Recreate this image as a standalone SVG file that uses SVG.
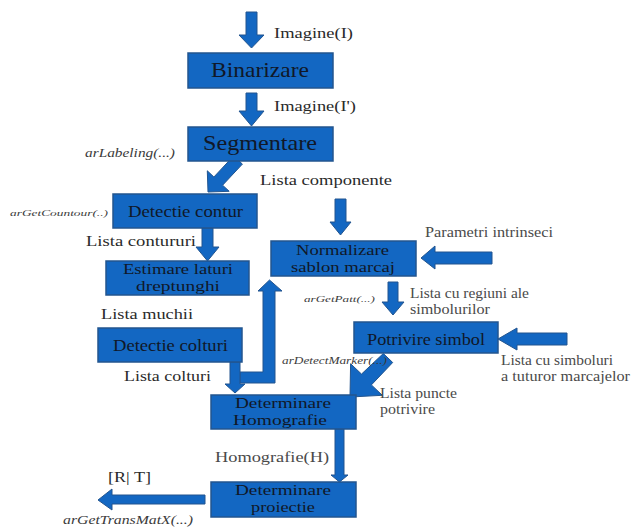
<svg xmlns="http://www.w3.org/2000/svg" width="632" height="527" viewBox="0 0 632 527" font-family="'Liberation Serif','DejaVu Serif',serif">
<style>
.box{fill:#1367c2;stroke:#23558f;stroke-width:1.5}
.arr{fill:#1367c2;stroke:#23558f;stroke-width:1}
text{font-family:'Liberation Serif','DejaVu Serif',serif}
.bt{font-size:17px;fill:#101828}
.b2{font-size:14px;fill:#101828}
.big{font-size:21px;fill:#101828}
.lb{font-size:15px;fill:#2a2a2a}
.lg{font-size:14px;fill:#4a4a4a}
.it{font-style:italic;fill:#3a3a3a}
</style>
<rect width="632" height="527" fill="#ffffff"/>
<g id="connectors">
<polygon class="arr" points="246,12 257,12 257,35 264,35 251.5,48 239,35 246,35"/>
<polygon class="arr" points="246,93 257,93 257,111 264,111 251.5,126 239,111 246,111"/>
<polygon class="arr" points="233.6,155.9 242.4,164.1 222.6,185.2 229.2,191.3 208,192 207.3,170.8 213.9,177"/>
<polygon class="arr" points="202,228 213,228 213,247 219,247 207.5,261 196,247 202,247"/>
<polygon class="arr" points="335,199 346,199 346,222 351,222 340.5,235 330,222 335,222"/>
<polygon class="arr" points="492,252 492,264 435,264 435,269 421,258 435,246 435,252"/>
<polygon class="arr" points="388,282 398,282 398,302 404,302 393,315 382,302 388,302"/>
<polygon class="arr" points="567,333 567,345 517,345 517,350 498,339 517,328 517,333"/>
<polygon class="arr" points="383.3,353.5 392.7,362.5 371.4,384.9 382.3,395.3 350,397 350.6,363.7 361.5,374.1"/>
<polygon class="arr" points="240,372 263,372 263,291 258,291 269.5,280 282,291 275,291 275,383 240,383"/>
<polygon class="arr" points="230,362 240,362 240,384 245,384 235,393 225,384 230,384"/>
<polygon class="arr" points="335,429 344,429 344,475 348,475 339.5,482 331,475 335,475"/>
<polygon class="arr" points="205,495 205,504 112,504 112,510 98,500 112,489 112,495"/>
</g>
<g id="n-binarizare"><rect class="box" x="188" y="53" width="145" height="35"/><text class="big" x="211" y="77" textLength="98" lengthAdjust="spacingAndGlyphs">Binarizare</text></g>
<g id="n-segmentare"><rect class="box" x="188" y="127" width="145" height="34"/><text class="big" x="203" y="150" textLength="114" lengthAdjust="spacingAndGlyphs">Segmentare</text></g>
<g id="n-detectie-contur"><rect class="box" x="113" y="194" width="144" height="34"/><text class="bt" x="128" y="217" textLength="115" lengthAdjust="spacingAndGlyphs">Detectie contur</text></g>
<g id="n-estimare"><rect class="box" x="106" y="261" width="143" height="34"/><text class="b2" x="123" y="274" textLength="110" lengthAdjust="spacingAndGlyphs">Estimare laturi</text><text class="b2" x="136" y="291" textLength="84" lengthAdjust="spacingAndGlyphs">dreptunghi</text></g>
<g id="n-normalizare"><rect class="box" x="271" y="241" width="145" height="35"/><text class="b2" x="296" y="255" textLength="93" lengthAdjust="spacingAndGlyphs">Normalizare</text><text class="b2" x="291" y="272" textLength="104" lengthAdjust="spacingAndGlyphs">sablon marcaj</text></g>
<g id="n-potrivire"><rect class="box" x="354" y="322" width="144" height="31"/><text class="bt" x="367" y="345" textLength="118" lengthAdjust="spacingAndGlyphs">Potrivire simbol</text></g>
<g id="n-detectie-colturi"><rect class="box" x="98" y="328" width="144" height="34"/><text class="bt" x="113" y="351" textLength="115" lengthAdjust="spacingAndGlyphs">Detectie colturi</text></g>
<g id="n-homografie"><rect class="box" x="211" y="395" width="145" height="34"/><text class="b2" x="235" y="408" textLength="96" lengthAdjust="spacingAndGlyphs">Determinare</text><text class="b2" x="233" y="425" textLength="94" lengthAdjust="spacingAndGlyphs">Homografie</text></g>
<g id="n-proiectie"><rect class="box" x="211" y="482" width="145" height="35"/><text class="b2" x="235" y="495" textLength="96" lengthAdjust="spacingAndGlyphs">Determinare</text><text class="b2" x="251" y="512" textLength="64" lengthAdjust="spacingAndGlyphs">proiectie</text></g>
<g id="labels">
<text class="lb" x="274" y="38" textLength="79" lengthAdjust="spacingAndGlyphs">Imagine(I)</text>
<text class="lb" x="274" y="111" textLength="82" lengthAdjust="spacingAndGlyphs">Imagine(I')</text>
<text class="it" font-size="12" x="85" y="157" textLength="90" lengthAdjust="spacingAndGlyphs">arLabeling(...)</text>
<text class="lb" x="260" y="185" textLength="132" lengthAdjust="spacingAndGlyphs">Lista componente</text>
<text class="it" font-size="9" x="10" y="216" textLength="98" lengthAdjust="spacingAndGlyphs">arGetCountour(..)</text>
<text class="lb" x="86" y="246" textLength="110" lengthAdjust="spacingAndGlyphs">Lista contururi</text>
<text class="lg" x="425" y="237" textLength="128" lengthAdjust="spacingAndGlyphs">Parametri intrinseci</text>
<text class="it" font-size="9" x="304" y="302" textLength="71" lengthAdjust="spacingAndGlyphs">arGetPatt(...)</text>
<text class="lg" x="410" y="298" textLength="119" lengthAdjust="spacingAndGlyphs">Lista cu regiuni ale</text>
<text class="lg" x="410" y="314" textLength="80" lengthAdjust="spacingAndGlyphs">simbolurilor</text>
<text class="lb" x="101" y="319" textLength="92" lengthAdjust="spacingAndGlyphs">Lista muchii</text>
<text class="it" font-size="10" x="282" y="364" textLength="105" lengthAdjust="spacingAndGlyphs">arDetectMarker(...)</text>
<text class="lg" x="501" y="365" textLength="112" lengthAdjust="spacingAndGlyphs">Lista cu simboluri</text>
<text class="lg" x="501" y="381" textLength="129" lengthAdjust="spacingAndGlyphs">a tuturor marcajelor</text>
<text class="lb" x="124" y="381" textLength="87" lengthAdjust="spacingAndGlyphs">Lista colturi</text>
<text class="lg" x="380" y="398" textLength="77" lengthAdjust="spacingAndGlyphs">Lista puncte</text>
<text class="lg" x="380" y="414" textLength="55" lengthAdjust="spacingAndGlyphs">potrivire</text>
<text class="lg" x="215" y="462" textLength="114" lengthAdjust="spacingAndGlyphs">Homografie(H)</text>
<text class="lb" x="108" y="482" textLength="43" lengthAdjust="spacingAndGlyphs">[R| T]</text>
<text class="it" font-size="12" x="63" y="524" textLength="130" lengthAdjust="spacingAndGlyphs">arGetTransMatX(...)</text>
</g>
</svg>
